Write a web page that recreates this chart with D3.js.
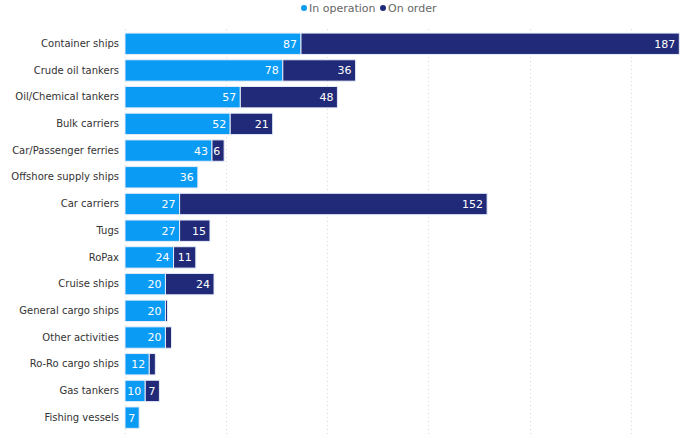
<!DOCTYPE html>
<html><head><meta charset="utf-8">
<script src="https://cdn.jsdelivr.net/npm/d3@7"></script>
<style>
body{margin:0;background:#fff;}
svg{display:block;font-family:"DejaVu Sans",Verdana,sans-serif;}
</style></head>
<body><svg id="chart" width="699" height="435"></svg>
<script>
const categories = ["Container ships","Crude oil tankers","Oil/Chemical tankers","Bulk carriers","Car/Passenger ferries","Offshore supply ships","Car carriers","Tugs","RoPax","Cruise ships","General cargo ships","Other activities","Ro-Ro cargo ships","Gas tankers","Fishing vessels"];
const inOperation = [87,78,57,52,43,36,27,27,24,20,20,20,12,10,7];
const onOrder = [187,36,48,21,6,0,152,15,11,24,1,3,3,7,0];
const seriesNames = ["In operation","On order"];
const colors = ["#0a9bf5","#212a78"];
const xTicks = [0,50,100,150,200,250];

const svg = d3.select("#chart");
const x = d3.scaleLinear().domain([0,274]).range([125,679.3]);
const y = d3.scaleBand().domain(categories).range([30.4,431]).paddingInner(0.2).paddingOuter(0.1);

// gridlines
svg.append("g").selectAll("line").data(xTicks).join("line")
  .attr("x1",d=>Math.round(x(d))+0.5).attr("x2",d=>Math.round(x(d))+0.5)
  .attr("y1",29).attr("y2",435)
  .attr("stroke","#d8d8d8").attr("stroke-dasharray","1,3");

const data = categories.map((c,i)=>({cat:c, vals:[inOperation[i], onOrder[i]]}));

const rows = svg.append("g").selectAll("g").data(data).join("g");
rows.each(function(d){
  const g = d3.select(this);
  let start = 0;
  d.vals.forEach((v,k)=>{
    if(v>0){
      g.append("rect")
        .attr("x",x(start)).attr("y",y(d.cat))
        .attr("width",x(start+v)-x(start)).attr("height",y.bandwidth())
        .attr("fill",colors[k]).attr("stroke","#e6ecf7").attr("stroke-width",1);
      if(x(start+v)-x(start) > 8){
        g.append("text")
          .attr("x",x(start+v)-4).attr("y",y(d.cat)+y.bandwidth()/2)
          .attr("dy","0.36em").attr("text-anchor","end")
          .attr("fill","#fff").attr("font-size",11).text(v);
      }
    }
    start += v;
  });
});

// category axis labels
const yAxis = d3.axisLeft(y).tickSize(0).tickPadding(6);
const ga = svg.append("g").attr("transform","translate(125,0)").call(yAxis);
ga.select(".domain").remove();
ga.selectAll("text").attr("font-size",10).attr("fill","#333").attr("font-family","DejaVu Sans, Verdana, sans-serif");

// legend
const legend = svg.append("g");
const lx = [304, 383];
seriesNames.forEach((s,k)=>{
  legend.append("circle").attr("cx",lx[k]).attr("cy",8).attr("r",3).attr("fill",colors[k]);
  legend.append("text").attr("x",lx[k]+5).attr("y",8).attr("dy","0.36em")
    .attr("font-size",11).attr("fill","#666").text(s);
});
</script></body></html>
